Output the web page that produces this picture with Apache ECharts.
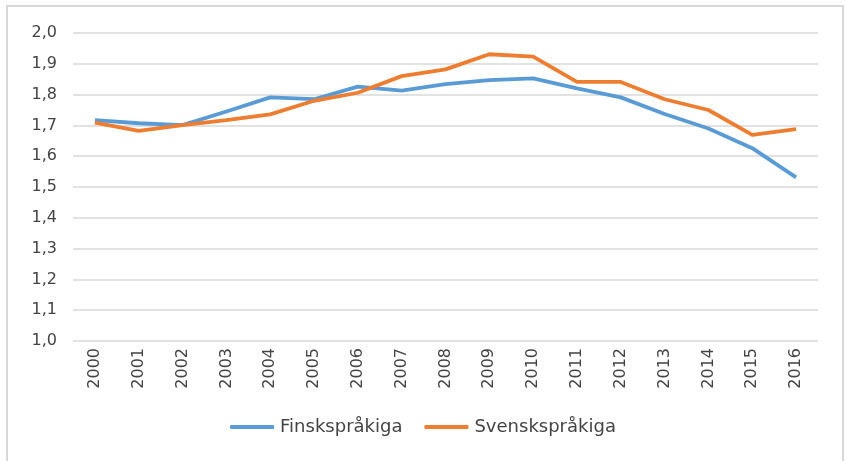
<!DOCTYPE html>
<html>
<head>
<meta charset="utf-8">
<script src="https://cdn.jsdelivr.net/npm/echarts@6/dist/echarts.min.js"></script>
<style>
  html, body { margin: 0; padding: 0; background: #fff; }
  #frame { position: absolute; left: 6px; top: 5px; width: 834px; height: 470px; border: 2px solid #d9d9d9; }
  #chart { position: absolute; left: 0; top: 0; width: 846px; height: 461px; }
</style>
</head>
<body>
<div id="frame"></div>
<div id="chart"></div>
<script>
// år och fruktsamhet per språkgrupp
var years = ['2000', '2001', '2002', '2003', '2004', '2005', '2006', '2007', '2008',
  '2009', '2010', '2011', '2012', '2013', '2014', '2015', '2016'];
var finska = [1.717, 1.707, 1.701, 1.745, 1.791, 1.785, 1.826, 1.813, 1.834,
  1.847, 1.853, 1.820, 1.791, 1.737, 1.690, 1.626, 1.531];
var svenska = [1.709, 1.682, 1.701, 1.717, 1.736, 1.780, 1.806, 1.860, 1.882,
  1.931, 1.923, 1.841, 1.841, 1.785, 1.750, 1.669, 1.688];

var font = '"DejaVu Sans", "Noto Sans", sans-serif';
var chart = echarts.init(document.getElementById('chart'));

chart.setOption({
  animation: false,
  textStyle: { fontFamily: font },
  grid: { left: 73, right: 28, top: 33, bottom: 120 },
  legend: {
    bottom: 20,
    left: 'center',
    itemWidth: 44,
    itemHeight: 4,
    itemGap: 22,
    icon: 'roundRect',
    textStyle: { fontSize: 18, color: '#444', fontFamily: font, padding: [0, 0, 0, 1] },
    data: ['Finskspråkiga', 'Svenskspråkiga']
  },
  xAxis: {
    type: 'category',
    data: years,
    boundaryGap: true,
    axisLine: { show: false },
    axisTick: { show: false },
    axisLabel: { rotate: 90, fontSize: 16, color: '#444', margin: 7, interval: 0 }
  },
  yAxis: {
    type: 'value',
    min: 1,
    max: 2,
    interval: 0.1,
    axisLine: { show: false },
    axisTick: { show: false },
    axisLabel: {
      fontSize: 16, color: '#444', margin: 16,
      formatter: function (v) { return v.toFixed(1).replace('.', ','); }
    },
    splitLine: { lineStyle: { color: '#d9d9d9', width: 1.5 } }
  },
  series: [
    {
      name: 'Finskspråkiga', type: 'line', data: finska,
      symbol: 'none', itemStyle: { color: '#5B9BD5' },
      lineStyle: { width: 3.8, color: '#5B9BD5' }
    },
    {
      name: 'Svenskspråkiga', type: 'line', data: svenska,
      symbol: 'none', itemStyle: { color: '#ED7D31' },
      lineStyle: { width: 3.8, color: '#ED7D31' }
    }
  ]
});
</script>
</body>
</html>
